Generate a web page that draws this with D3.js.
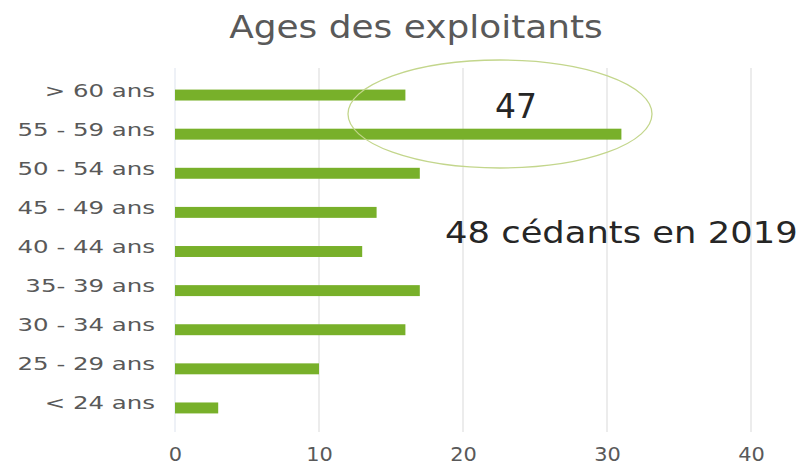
<!DOCTYPE html>
<html><head><meta charset="utf-8">
<script src="https://cdn.jsdelivr.net/npm/d3@7"></script>
<style>body{margin:0;background:#fff}svg{display:block}</style>
</head><body>
<script>
const categories = ["> 60 ans","55 - 59 ans","50 - 54 ans","45 - 49 ans","40 - 44 ans","35- 39 ans","30 - 34 ans","25 - 29 ans","< 24 ans"];
const values = [16,31,17,14,13,17,16,10,3];
const xTicks = [0,10,20,30,40];
const title = "Ages des exploitants";
const calloutValue = "47";
const note = "48 cédants en 2019";

const W=804,H=468;
const svg=d3.select("body").append("svg").attr("width",W).attr("height",H);
const font="DejaVu Sans, Verdana, sans-serif";
const x=d3.scaleLinear().domain([0,40]).range([175,751]);
const y=d3.scaleBand().domain(categories).range([75.5,427.5]).paddingInner(0.72).paddingOuter(0.36);

function stretch(sel,f){
  sel.each(function(){const l=this.getComputedTextLength();
    d3.select(this).attr("textLength",l*f).attr("lengthAdjust","spacingAndGlyphs");});
}

// gridlines
svg.append("g").selectAll("line").data(xTicks.slice(1)).join("line")
 .attr("x1",d=>x(d)).attr("x2",d=>x(d)).attr("y1",68).attr("y2",432)
 .attr("stroke","#d9d9d9").attr("stroke-width",1);
svg.append("line").attr("x1",x(0)).attr("x2",x(0)).attr("y1",68).attr("y2",432)
 .attr("stroke","#dde3ee").attr("stroke-width",1);

// bars
svg.append("g").selectAll("rect").data(values).join("rect")
 .attr("x",x(0)).attr("y",(d,i)=>y(categories[i]))
 .attr("width",d=>x(d)-x(0)).attr("height",y.bandwidth())
 .attr("fill","#78b02a");

// y labels
const yAxis=svg.append("g").attr("transform",`translate(${x(0)},0)`)
 .call(d3.axisLeft(y).tickSize(0).tickPadding(20));
yAxis.select(".domain").remove();
yAxis.selectAll("text").attr("font-family",font).attr("font-size",18.5).attr("fill","#595959")
 .attr("dy","0.0em").attr("y",1.5);
stretch(yAxis.selectAll("text"),1.32);

// x labels
const xAxis=svg.append("g").attr("transform","translate(0,447)")
 .call(d3.axisBottom(x).tickValues(xTicks).tickSize(0).tickPadding(0));
xAxis.select(".domain").remove();
xAxis.selectAll("text").attr("font-family",font).attr("font-size",19).attr("fill","#595959");
stretch(xAxis.selectAll("text"),1.1);

// title
const t=svg.append("text").attr("x",416).attr("y",38).attr("text-anchor","middle")
 .attr("font-family",font).attr("font-size",31.5).attr("fill","#595959").text(title);
stretch(t,1.14);

// ellipse callout
svg.append("ellipse").attr("cx",500).attr("cy",114).attr("rx",152).attr("ry",54)
 .attr("fill","none").attr("stroke","#c3d68c").attr("stroke-width",1.3);
svg.append("text").attr("x",516).attr("y",118).attr("text-anchor","middle")
 .attr("font-family",font).attr("font-size",33).attr("fill","#262626").text(calloutValue);

const n=svg.append("text").attr("x",445).attr("y",243)
 .attr("font-family",font).attr("font-size",31).attr("fill","#262626").text(note);
stretch(n,1.14);
</script>
</body></html>
